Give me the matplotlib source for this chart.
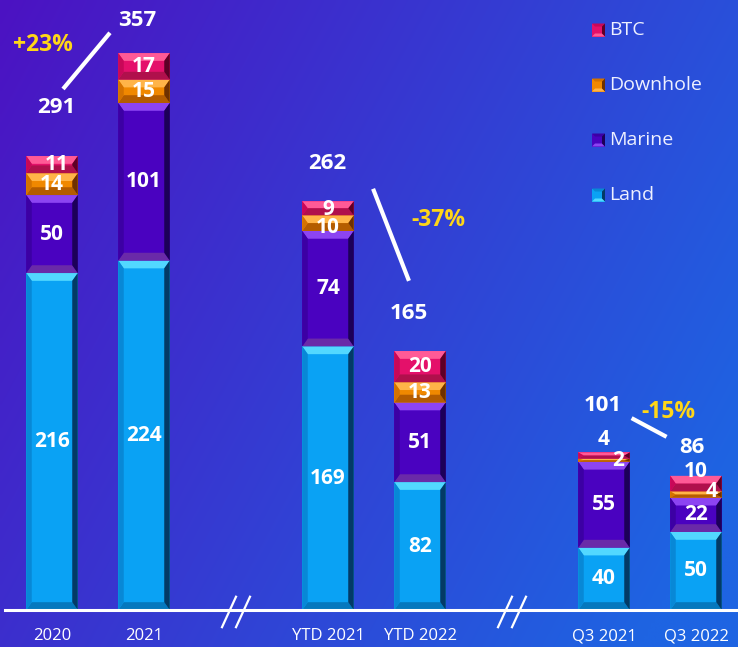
import numpy as np
import matplotlib.pyplot as plt
from matplotlib.patches import Polygon, Rectangle

# =========================
# DATA
# =========================
GROUPS = ['2020', '2021', 'YTD 2021', 'YTD 2022', 'Q3 2021', 'Q3 2022']
SLOTS = [0, 1, 3, 4, 6, 7]
SERIES = ['Land', 'Marine', 'Downhole', 'BTC']
LAND = [216, 224, 169, 82, 40, 50]
MARINE = [50, 101, 74, 51, 55, 22]
DOWNHOLE = [14, 15, 10, 13, 2, 4]
BTC = [11, 17, 9, 20, 4, 10]
TOTALS = [291, 357, 262, 165, 101, 86]
CHANGES = ['+23%', '-37%', '-15%']

# =========================
# STYLE
# =========================
W, H = 738, 647
PX_PER_UNIT = 1.56
SLOT_PX = 92.0
BASE_PX = 610
FIRST_PX = 52

PALETTE = {
    'Land':     dict(main='#0AA2F4', top='#52D8FF', bot='#0578BE', right='#033A66', left='#0888D6'),
    'Marine':   dict(main='#4A02C0', top='#8C44F2', bot='#6A2AA8', right='#1C0058', left='#3C00A4'),
    'Downhole': dict(main='#F08800', top='#FFB448', bot='#B45C00', right='#6E3000', left='#D47200'),
    'BTC':      dict(main='#E4106A', top='#FF5A96', bot='#B0104C', right='#5E0026', left='#C80858'),
}
GOLD = '#FFD617'
FONT = ['Open Sans', 'DejaVu Sans']
plt.rcParams['font.family'] = FONT

# label tweaks for thin segments: (group, series) -> (dx, dy) in data units
# dy as ('above', n) puts the label n units over the bar top
LABEL_SHIFT = {
    (0, 'BTC'): (0.05, 0),
    (2, 'BTC'): (0.0, -1),
    (2, 'Downhole'): (0.0, -3),
    (4, 'BTC'): (0.0, ('above', 8)),
    (4, 'Downhole'): (0.15, 0),
    (5, 'BTC'): (0.0, ('above', 3)),
    (5, 'Downhole'): (0.17, 2),
}
TOTAL_OFFSET = [(0.05, 31), (-0.07, 21), (-0.01, 24), (-0.12, 25), (-0.01, 30), (-0.04, 18)]
CHANGE_POS = [(-0.1, 362), (4.2, 250), (6.7, 127)]
CHANGE_LINE = [((0.12, 0.63), (334, 370)), ((3.49, 3.88), (270, 211)), ((6.30, 6.68), (123, 111))]


def add_bevel(ax, rect, pal, bx=0.06, by_max=5.0):
    x0, y0 = rect.get_x(), rect.get_y()
    x1, y1 = x0 + rect.get_width(), y0 + rect.get_height()
    by = min(by_max, (y1 - y0) / 2)
    polys = [
        ([(x0, y1), (x1, y1), (x1 - bx, y1 - by), (x0 + bx, y1 - by)], pal['top']),
        ([(x0, y0), (x1, y0), (x1 - bx, y0 + by), (x0 + bx, y0 + by)], pal['bot']),
        ([(x0, y1), (x0, y0), (x0 + bx, y0 + by), (x0 + bx, y1 - by)], pal['left']),
        ([(x1, y1), (x1, y0), (x1 - bx, y0 + by), (x1 - bx, y1 - by)], pal['right']),
    ]
    for pts, c in polys:
        ax.add_patch(Polygon(pts, closed=True, fc=c, ec='none', zorder=3))


fig = plt.figure(figsize=(W / 100, H / 100), dpi=100)

# background gradient
ax_bg = fig.add_axes([0, 0, 1, 1])
gx, gy = np.meshgrid(np.linspace(0, 1, 200), np.linspace(0, 1, 200))
t = np.clip(0.75 * gx + 0.35 * gy, 0, 1)
c0 = np.array([0x4C, 0x12, 0xC2]) / 255
c1 = np.array([0x1E, 0x64, 0xE2]) / 255
grad = c0[None, None, :] * (1 - t[..., None]) + c1[None, None, :] * t[..., None]
ax_bg.imshow(grad, extent=[0, W, H, 0], aspect='auto', interpolation='bilinear')
ax_bg.set_xlim(0, W)
ax_bg.set_ylim(H, 0)
ax_bg.axis('off')

# main axes
ax = fig.add_axes([0, (H - BASE_PX) / H, 1, BASE_PX / H])
ax.patch.set_alpha(0)
ax.set_xlim(-FIRST_PX / SLOT_PX, (W - FIRST_PX) / SLOT_PX)
ax.set_ylim(0, BASE_PX / PX_PER_UNIT)
for s in ax.spines.values():
    s.set_visible(False)
ax.set_yticks([])
ax.set_xticks(SLOTS, GROUPS)
ax.tick_params(axis='x', length=0, pad=13, labelsize=12, labelcolor='white')

values = {'Land': LAND, 'Marine': MARINE, 'Downhole': DOWNHOLE, 'BTC': BTC}
bottom = np.zeros(len(SLOTS))
width = 0.56
for name in SERIES:
    vals = np.array(values[name], dtype=float)
    bars = ax.bar(SLOTS, vals, width=width, bottom=bottom, color=PALETTE[name]['main'],
                  edgecolor='none', zorder=2)
    for i, rect in enumerate(bars):
        add_bevel(ax, rect, PALETTE[name])
        cx = SLOTS[i]
        cy = bottom[i] + vals[i] / 2
        shift = LABEL_SHIFT.get((i, name))
        if shift is not None:
            dx, dy = shift
            cx += dx
            if isinstance(dy, tuple):
                cy = bottom[i] + vals[i] + dy[1]
            else:
                cy += dy
        ax.text(cx, cy, f'{int(vals[i])}', ha='center', va='center', color='white',
                fontsize=15, fontweight='bold', zorder=5)
    bottom += vals

# totals
for i, tot in enumerate(TOTALS):
    dx, dy = TOTAL_OFFSET[i]
    ax.text(SLOTS[i] + dx, tot + dy, f'{tot}', ha='center', va='center', color='white',
            fontsize=16, fontweight='bold', zorder=5)

# change labels and connectors
for lab, (px, py), (lx, ly) in zip(CHANGES, CHANGE_POS, CHANGE_LINE):
    ax.text(px, py, lab, ha='center', va='center', color=GOLD, fontsize=16.5,
            fontweight='bold', zorder=5)
    ax.plot(lx, ly, color='white', lw=3, solid_capstyle='butt', zorder=5)

# baseline and axis breaks
ax.axhline(0, xmin=5 / W, xmax=1, color='white', lw=2.2, clip_on=False, zorder=6)
for a, b in [(1, 2), (3, 4)]:
    xc = (SLOTS[a] + SLOTS[b]) / 2
    for off in (-0.076, 0.076):
        ax.plot([xc + off - 0.076, xc + off + 0.076], [-11, 8.5], color='white', lw=1.6,
                clip_on=False, zorder=6)

# legend (pixel coords on background axes)
for k, name in enumerate(['BTC', 'Downhole', 'Marine', 'Land']):
    yc = 30 + 55 * k
    x0, x1, y0, y1 = 592, 605, yc - 6.5, yc + 6.5
    pal = PALETTE[name]
    ax_bg.add_patch(Rectangle((x0, y0), x1 - x0, y1 - y0, fc=pal['main'], ec='none'))
    b = 3
    for pts, c in [
        ([(x0, y0), (x1, y0), (x1 - b, y0 + b), (x0 + b, y0 + b)], pal['left']),
        ([(x0, y1), (x1, y1), (x1 - b, y1 - b), (x0 + b, y1 - b)], pal['top']),
        ([(x1, y0), (x1, y1), (x1 - b, y1 - b), (x1 - b, y0 + b)], pal['right']),
    ]:
        ax_bg.add_patch(Polygon(pts, closed=True, fc=c, ec='none'))
    ax_bg.text(609, yc, name, ha='left', va='center', color='#EEF0FF', fontsize=14)

fig.savefig('out.png', dpi=100)
